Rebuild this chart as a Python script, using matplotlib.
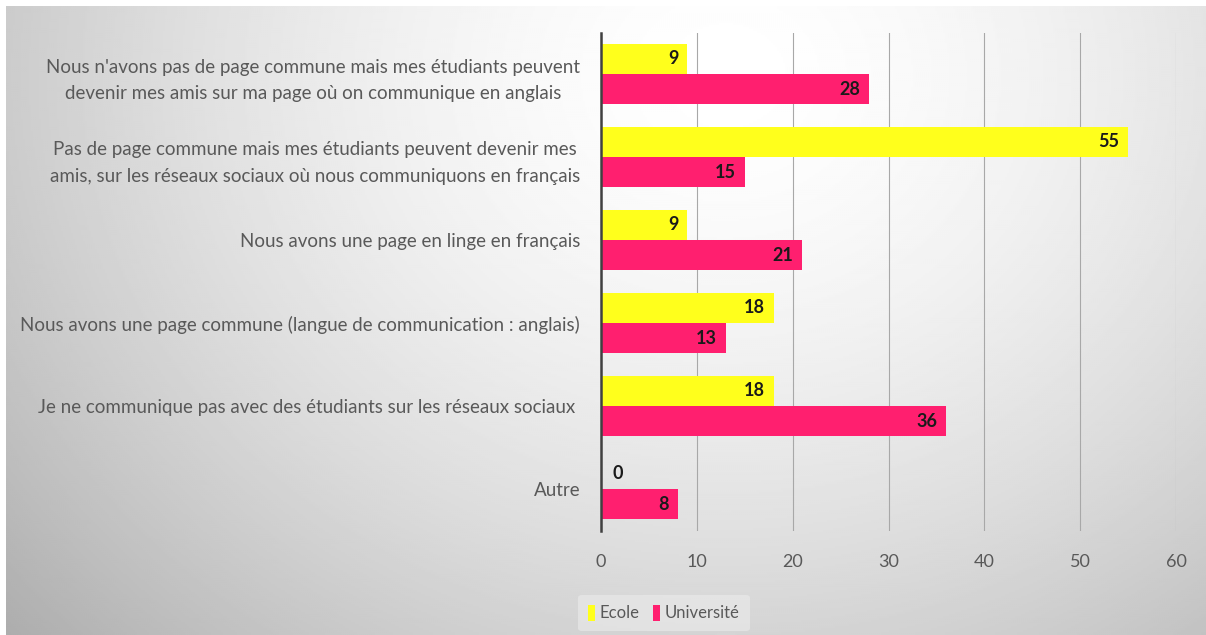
import matplotlib.pyplot as plt
import numpy as np

plt.rcParams['font.family'] = ['Lato', 'DejaVu Sans']

categories = [
    "Nous n'avons pas de page commune mais mes étudiants peuvent\ndevenir mes amis sur ma page où on communique en anglais",
    "Pas de page commune mais mes étudiants peuvent devenir mes\namis, sur les réseaux sociaux où nous communiquons en français",
    "Nous avons une page en linge en français",
    "Nous avons une page commune (langue de communication : anglais)",
    "Je ne communique pas avec des étudiants sur les réseaux sociaux ",
    "Autre",
]
ecole = [9, 55, 9, 18, 18, 0]
universite = [28, 15, 21, 13, 36, 8]
series_names = ["Ecole", "Université"]
x_ticks = [0, 10, 20, 30, 40, 50, 60]

yellow = "#ffff1c"
pink = "#ff1f6f"
text_gray = "#595959"

fig = plt.figure(figsize=(12.06, 6.35), dpi=100, facecolor="white")

# soft radial background, lightest near the top middle
bg = fig.add_axes([6 / 1206, 0, 1 - 6 / 1206, 1 - 6 / 635])
bg.set_axis_off()
gx, gy = np.meshgrid(np.linspace(0, 1200, 600), np.linspace(629, 0, 315))
dist = np.hypot((gx - 720) / 1.15, gy - 560) / 700
shade = 1 - 0.24 * np.clip(dist, 0, 1.2) ** 1.6
bg.imshow(shade, cmap="gray", vmin=0, vmax=1, aspect="auto",
          extent=[0, 1, 0, 1], interpolation="bilinear")
bg.set_xlim(0, 1)
bg.set_ylim(0, 1)

ax = fig.add_axes([601 / 1206, 104.5 / 635, 575 / 1206, 498 / 635])
ax.patch.set_alpha(0)

y = np.arange(len(categories))
h = 0.36
off = 0.185
b1 = ax.barh(y - off, ecole, height=h, color=yellow, label=series_names[0], zorder=3)
b2 = ax.barh(y + off, universite, height=h, color=pink, label=series_names[1], zorder=3)

for bars, vals in ((b1, ecole), (b2, universite)):
    for bar, v in zip(bars, vals):
        cy = bar.get_y() + bar.get_height() / 2
        if v > 0:
            ax.text(v - 0.9, cy, str(v), ha="right", va="center",
                    fontsize=13, fontweight="bold", color="#1a1a1a", zorder=4)
        else:
            ax.text(1.2, cy, str(v), ha="left", va="center",
                    fontsize=13, fontweight="bold", color="#1a1a1a", zorder=4)

ax.set_xlim(0, 60)
ax.set_ylim(len(categories) - 0.5, -0.5)
ax.set_xticks(x_ticks)
ax.set_yticks(y)
ax.set_yticklabels(categories)
for lbl in ax.get_yticklabels():
    lbl.set_multialignment("center")
    lbl.set_linespacing(1.65)
    lbl.set_fontsize(13.5)
ax.tick_params(axis="both", length=0, labelcolor=text_gray)
ax.tick_params(axis="x", pad=17, labelsize=13)
ax.tick_params(axis="y", pad=15)

ax.grid(axis="x", color="#a8a8a8", linewidth=0.8, zorder=0)
for s in ("top", "right", "bottom"):
    ax.spines[s].set_visible(False)
ax.spines["left"].set_color("#404040")
ax.spines["left"].set_linewidth(1.8)
ax.spines["left"].set_zorder(5)

leg = fig.legend(handles=[b1, b2], loc="center", bbox_to_anchor=(664 / 1206, 1 - 613 / 635),
                 ncol=2, frameon=True, fontsize=12, handlelength=0.4, handleheight=1.1,
                 handletextpad=0.3, columnspacing=0.8, borderpad=0.6)
leg.get_frame().set_facecolor("#ececec")
leg.get_frame().set_edgecolor("none")
leg.get_frame().set_alpha(0.6)
for t in leg.get_texts():
    t.set_color(text_gray)

fig.savefig("out.png", dpi=100)
